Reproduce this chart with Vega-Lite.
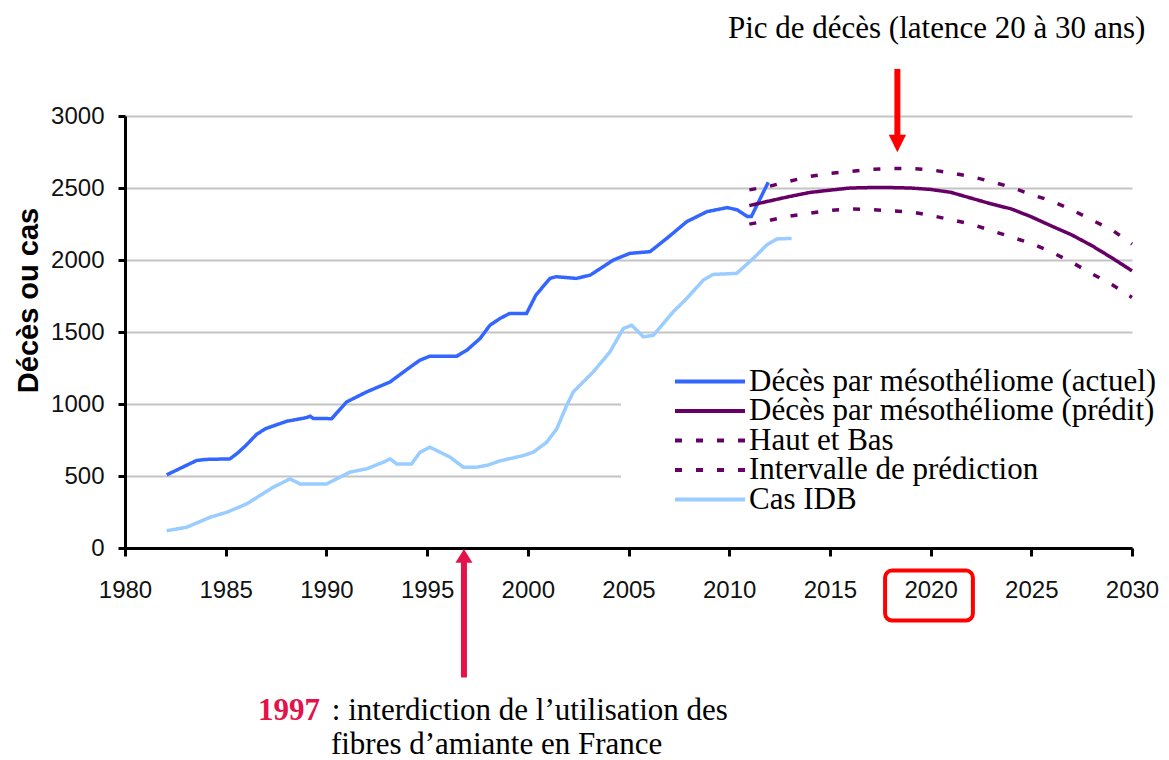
{
  "$schema": "https://vega.github.io/schema/vega-lite/v6.json",
  "autosize": "none",
  "width": 1007,
  "height": 432,
  "padding": {"left": 125, "top": 116, "right": 37, "bottom": 212},
  "background": "white",
  "config": {
    "view": {"stroke": null},
    "legend": {
      "orient": "none",
      "legendX": 496,
      "legendY": 248,
      "symbolType": "stroke",
      "symbolSize": 4900,
      "symbolStrokeWidth": 4,
      "symbolOffset": 48,
      "clipHeight": 27,
      "labelFont": "Liberation Serif",
      "labelFontSize": 31,
      "labelColor": "black",
      "labelLimit": 0,
      "labelOffset": 2,
      "fillColor": "white",
      "padding": 4,
      "rowPadding": -2.5,
      "title": null
    }
  },
  "datasets": {
    "series": [
      {"year": 1982.07, "value": 508, "series": "Décès par mésothéliome (actuel)"},
      {"year": 1983.56, "value": 608, "series": "Décès par mésothéliome (actuel)"},
      {"year": 1984.0, "value": 615, "series": "Décès par mésothéliome (actuel)"},
      {"year": 1985.21, "value": 619, "series": "Décès par mésothéliome (actuel)"},
      {"year": 1985.6, "value": 660, "series": "Décès par mésothéliome (actuel)"},
      {"year": 1986.0, "value": 712, "series": "Décès par mésothéliome (actuel)"},
      {"year": 1986.54, "value": 790, "series": "Décès par mésothéliome (actuel)"},
      {"year": 1987.0, "value": 830, "series": "Décès par mésothéliome (actuel)"},
      {"year": 1988.03, "value": 880, "series": "Décès par mésothéliome (actuel)"},
      {"year": 1989.0, "value": 905, "series": "Décès par mésothéliome (actuel)"},
      {"year": 1989.19, "value": 915, "series": "Décès par mésothéliome (actuel)"},
      {"year": 1989.35, "value": 900, "series": "Décès par mésothéliome (actuel)"},
      {"year": 1990.26, "value": 898, "series": "Décès par mésothéliome (actuel)"},
      {"year": 1991.0, "value": 1014, "series": "Décès par mésothéliome (actuel)"},
      {"year": 1992.0, "value": 1084, "series": "Décès par mésothéliome (actuel)"},
      {"year": 1993.16, "value": 1153, "series": "Décès par mésothéliome (actuel)"},
      {"year": 1994.0, "value": 1240, "series": "Décès par mésothéliome (actuel)"},
      {"year": 1994.64, "value": 1304, "series": "Décès par mésothéliome (actuel)"},
      {"year": 1995.14, "value": 1332, "series": "Décès par mésothéliome (actuel)"},
      {"year": 1996.47, "value": 1332, "series": "Décès par mésothéliome (actuel)"},
      {"year": 1996.97, "value": 1373, "series": "Décès par mésothéliome (actuel)"},
      {"year": 1997.63, "value": 1455, "series": "Décès par mésothéliome (actuel)"},
      {"year": 1998.12, "value": 1547, "series": "Décès par mésothéliome (actuel)"},
      {"year": 1998.62, "value": 1594, "series": "Décès par mésothéliome (actuel)"},
      {"year": 1999.1, "value": 1629, "series": "Décès par mésothéliome (actuel)"},
      {"year": 1999.94, "value": 1629, "series": "Décès par mésothéliome (actuel)"},
      {"year": 2000.4, "value": 1756, "series": "Décès par mésothéliome (actuel)"},
      {"year": 2001.1, "value": 1872, "series": "Décès par mésothéliome (actuel)"},
      {"year": 2001.4, "value": 1884, "series": "Décès par mésothéliome (actuel)"},
      {"year": 2002.4, "value": 1872, "series": "Décès par mésothéliome (actuel)"},
      {"year": 2003.1, "value": 1895, "series": "Décès par mésothéliome (actuel)"},
      {"year": 2004.25, "value": 2000, "series": "Décès par mésothéliome (actuel)"},
      {"year": 2005.07, "value": 2046, "series": "Décès par mésothéliome (actuel)"},
      {"year": 2006.07, "value": 2058, "series": "Décès par mésothéliome (actuel)"},
      {"year": 2006.9, "value": 2150, "series": "Décès par mésothéliome (actuel)"},
      {"year": 2007.9, "value": 2267, "series": "Décès par mésothéliome (actuel)"},
      {"year": 2008.9, "value": 2336, "series": "Décès par mésothéliome (actuel)"},
      {"year": 2009.9, "value": 2364, "series": "Décès par mésothéliome (actuel)"},
      {"year": 2010.4, "value": 2348, "series": "Décès par mésothéliome (actuel)"},
      {"year": 2010.9, "value": 2302, "series": "Décès par mésothéliome (actuel)"},
      {"year": 2011.1, "value": 2302, "series": "Décès par mésothéliome (actuel)"},
      {"year": 2011.94, "value": 2540, "series": "Décès par mésothéliome (actuel)"},

      {"year": 2011, "value": 2378, "series": "Décès par mésothéliome (prédit)"},
      {"year": 2012, "value": 2410, "series": "Décès par mésothéliome (prédit)"},
      {"year": 2013, "value": 2441, "series": "Décès par mésothéliome (prédit)"},
      {"year": 2014, "value": 2469, "series": "Décès par mésothéliome (prédit)"},
      {"year": 2015, "value": 2485, "series": "Décès par mésothéliome (prédit)"},
      {"year": 2016, "value": 2500, "series": "Décès par mésothéliome (prédit)"},
      {"year": 2017, "value": 2503, "series": "Décès par mésothéliome (prédit)"},
      {"year": 2018, "value": 2503, "series": "Décès par mésothéliome (prédit)"},
      {"year": 2019, "value": 2500, "series": "Décès par mésothéliome (prédit)"},
      {"year": 2020, "value": 2490, "series": "Décès par mésothéliome (prédit)"},
      {"year": 2021, "value": 2470, "series": "Décès par mésothéliome (prédit)"},
      {"year": 2022, "value": 2430, "series": "Décès par mésothéliome (prédit)"},
      {"year": 2023, "value": 2390, "series": "Décès par mésothéliome (prédit)"},
      {"year": 2024, "value": 2355, "series": "Décès par mésothéliome (prédit)"},
      {"year": 2025, "value": 2300, "series": "Décès par mésothéliome (prédit)"},
      {"year": 2026, "value": 2236, "series": "Décès par mésothéliome (prédit)"},
      {"year": 2027, "value": 2175, "series": "Décès par mésothéliome (prédit)"},
      {"year": 2028, "value": 2100, "series": "Décès par mésothéliome (prédit)"},
      {"year": 2029, "value": 2015, "series": "Décès par mésothéliome (prédit)"},
      {"year": 2030, "value": 1925, "series": "Décès par mésothéliome (prédit)"},

      {"year": 2011, "value": 2487, "series": "Haut et Bas"},
      {"year": 2012, "value": 2512, "series": "Haut et Bas"},
      {"year": 2013, "value": 2548, "series": "Haut et Bas"},
      {"year": 2014, "value": 2580, "series": "Haut et Bas"},
      {"year": 2015, "value": 2602, "series": "Haut et Bas"},
      {"year": 2016, "value": 2615, "series": "Haut et Bas"},
      {"year": 2017, "value": 2630, "series": "Haut et Bas"},
      {"year": 2018, "value": 2635, "series": "Haut et Bas"},
      {"year": 2019, "value": 2635, "series": "Haut et Bas"},
      {"year": 2020, "value": 2627, "series": "Haut et Bas"},
      {"year": 2021, "value": 2605, "series": "Haut et Bas"},
      {"year": 2022, "value": 2580, "series": "Haut et Bas"},
      {"year": 2023, "value": 2545, "series": "Haut et Bas"},
      {"year": 2024, "value": 2505, "series": "Haut et Bas"},
      {"year": 2025, "value": 2455, "series": "Haut et Bas"},
      {"year": 2026, "value": 2410, "series": "Haut et Bas"},
      {"year": 2027, "value": 2350, "series": "Haut et Bas"},
      {"year": 2028, "value": 2278, "series": "Haut et Bas"},
      {"year": 2029, "value": 2210, "series": "Haut et Bas"},
      {"year": 2030, "value": 2110, "series": "Haut et Bas"},

      {"year": 2011, "value": 2249, "series": "Intervalle de prédiction"},
      {"year": 2012, "value": 2275, "series": "Intervalle de prédiction"},
      {"year": 2013, "value": 2305, "series": "Intervalle de prédiction"},
      {"year": 2014, "value": 2325, "series": "Intervalle de prédiction"},
      {"year": 2015, "value": 2345, "series": "Intervalle de prédiction"},
      {"year": 2016, "value": 2355, "series": "Intervalle de prédiction"},
      {"year": 2017, "value": 2350, "series": "Intervalle de prédiction"},
      {"year": 2018, "value": 2341, "series": "Intervalle de prédiction"},
      {"year": 2019, "value": 2335, "series": "Intervalle de prédiction"},
      {"year": 2020, "value": 2310, "series": "Intervalle de prédiction"},
      {"year": 2021, "value": 2280, "series": "Intervalle de prédiction"},
      {"year": 2022, "value": 2250, "series": "Intervalle de prédiction"},
      {"year": 2023, "value": 2205, "series": "Intervalle de prédiction"},
      {"year": 2024, "value": 2160, "series": "Intervalle de prédiction"},
      {"year": 2025, "value": 2115, "series": "Intervalle de prédiction"},
      {"year": 2026, "value": 2056, "series": "Intervalle de prédiction"},
      {"year": 2027, "value": 1985, "series": "Intervalle de prédiction"},
      {"year": 2028, "value": 1905, "series": "Intervalle de prédiction"},
      {"year": 2029, "value": 1830, "series": "Intervalle de prédiction"},
      {"year": 2030, "value": 1740, "series": "Intervalle de prédiction"},

      {"year": 1982.07, "value": 120, "series": "Cas IDB"},
      {"year": 1983.06, "value": 144, "series": "Cas IDB"},
      {"year": 1984.22, "value": 213, "series": "Cas IDB"},
      {"year": 1985.05, "value": 248, "series": "Cas IDB"},
      {"year": 1986.04, "value": 306, "series": "Cas IDB"},
      {"year": 1987.36, "value": 422, "series": "Cas IDB"},
      {"year": 1988.19, "value": 480, "series": "Cas IDB"},
      {"year": 1988.69, "value": 445, "series": "Cas IDB"},
      {"year": 1990.01, "value": 445, "series": "Cas IDB"},
      {"year": 1991.17, "value": 527, "series": "Cas IDB"},
      {"year": 1992.0, "value": 550, "series": "Cas IDB"},
      {"year": 1992.83, "value": 596, "series": "Cas IDB"},
      {"year": 1993.16, "value": 619, "series": "Cas IDB"},
      {"year": 1993.49, "value": 584, "series": "Cas IDB"},
      {"year": 1994.23, "value": 584, "series": "Cas IDB"},
      {"year": 1994.65, "value": 665, "series": "Cas IDB"},
      {"year": 1995.14, "value": 700, "series": "Cas IDB"},
      {"year": 1996.14, "value": 631, "series": "Cas IDB"},
      {"year": 1996.8, "value": 561, "series": "Cas IDB"},
      {"year": 1997.46, "value": 561, "series": "Cas IDB"},
      {"year": 1998.0, "value": 575, "series": "Cas IDB"},
      {"year": 1998.62, "value": 605, "series": "Cas IDB"},
      {"year": 1999.78, "value": 642, "series": "Cas IDB"},
      {"year": 2000.27, "value": 665, "series": "Cas IDB"},
      {"year": 2000.94, "value": 735, "series": "Cas IDB"},
      {"year": 2001.44, "value": 828, "series": "Cas IDB"},
      {"year": 2001.93, "value": 990, "series": "Cas IDB"},
      {"year": 2002.26, "value": 1084, "series": "Cas IDB"},
      {"year": 2003.25, "value": 1223, "series": "Cas IDB"},
      {"year": 2004.08, "value": 1362, "series": "Cas IDB"},
      {"year": 2004.74, "value": 1524, "series": "Cas IDB"},
      {"year": 2005.16, "value": 1547, "series": "Cas IDB"},
      {"year": 2005.74, "value": 1466, "series": "Cas IDB"},
      {"year": 2006.23, "value": 1477, "series": "Cas IDB"},
      {"year": 2007.22, "value": 1640, "series": "Cas IDB"},
      {"year": 2007.89, "value": 1733, "series": "Cas IDB"},
      {"year": 2008.71, "value": 1860, "series": "Cas IDB"},
      {"year": 2009.21, "value": 1900, "series": "Cas IDB"},
      {"year": 2010.37, "value": 1907, "series": "Cas IDB"},
      {"year": 2011.2, "value": 2011, "series": "Cas IDB"},
      {"year": 2011.86, "value": 2104, "series": "Cas IDB"},
      {"year": 2012.36, "value": 2146, "series": "Cas IDB"},
      {"year": 2013.1, "value": 2150, "series": "Cas IDB"}
    ]
  },
  "encoding": {
    "x": {
      "type": "quantitative",
      "scale": {"domain": [1980, 2030], "nice": false, "zero": false},
      "axis": {
        "values": [1980, 1985, 1990, 1995, 2000, 2005, 2010, 2015, 2020, 2025, 2030],
        "format": "d",
        "title": null,
        "grid": false,
        "domainColor": "black",
        "domainWidth": 3,
        "tickColor": "black",
        "tickWidth": 3,
        "tickSize": 8,
        "labelFont": "Liberation Sans",
        "labelFontSize": 24,
        "labelColor": "#111111",
        "labelPadding": 22,
        "labelFlush": false,
        "labelOverlap": false
      }
    },
    "y": {
      "type": "quantitative",
      "scale": {"domain": [0, 3000], "nice": false, "zero": false},
      "axis": {
        "values": [0, 500, 1000, 1500, 2000, 2500, 3000],
        "format": "d",
        "title": "Décès ou cas",
        "titleFont": "Liberation Sans",
        "titleFontWeight": "bold",
        "titleFontSize": 29,
        "titleColor": "black",
        "titleAngle": 270,
        "titleAlign": "center",
        "titleBaseline": "alphabetic",
        "titleX": -88,
        "titleY": 184,
        "grid": true,
        "gridColor": "#c4c4c4",
        "gridWidth": 2,
        "domainColor": "black",
        "domainWidth": 3,
        "tickColor": "black",
        "tickWidth": 3,
        "tickSize": 7,
        "labelFont": "Liberation Sans",
        "labelFontSize": 24,
        "labelColor": "#111111",
        "labelPadding": 14,
        "labelOverlap": false
      }
    }
  },
  "layer": [
    {
      "data": {"name": "series"},
      "mark": {"type": "line", "strokeWidth": 3.5, "strokeCap": "butt"},
      "encoding": {
        "x": {"field": "year", "type": "quantitative"},
        "y": {"field": "value", "type": "quantitative"},
        "color": {
          "field": "series",
          "type": "nominal",
          "scale": {
            "domain": ["Décès par mésothéliome (actuel)", "Décès par mésothéliome (prédit)", "Haut et Bas", "Intervalle de prédiction", "Cas IDB"],
            "range": ["#3366ff", "#660066", "#660066", "#660066", "#99ccff"]
          }
        },
        "strokeDash": {
          "field": "series",
          "type": "nominal",
          "scale": {
            "domain": ["Décès par mésothéliome (actuel)", "Décès par mésothéliome (prédit)", "Haut et Bas", "Intervalle de prédiction", "Cas IDB"],
            "range": [[1, 0], [1, 0], [7, 14], [7, 14], [1, 0]]
          }
        },
        "order": {"field": "year", "type": "quantitative"}
      }
    },
    {
      "data": {"values": [{"year": 2018.35, "from": 3327, "to": 2861}]},
      "mark": {"type": "rule", "color": "#ff0000", "strokeWidth": 6},
      "encoding": {
        "x": {"field": "year", "type": "quantitative"},
        "y": {"field": "from", "type": "quantitative"},
        "y2": {"field": "to"}
      }
    },
    {
      "data": {"values": [{"year": 2018.35, "value": 2809}]},
      "mark": {"type": "point", "shape": "M-1,-1L1,-1L0,1Z", "size": 300, "filled": true, "color": "#ff0000", "opacity": 1},
      "encoding": {
        "x": {"field": "year", "type": "quantitative"},
        "y": {"field": "value", "type": "quantitative"}
      }
    },
    {
      "data": {"values": [{"label": "Pic de décès (latence 20 à 30 ans)", "year": 2020.3, "value": 3541}]},
      "mark": {"type": "text", "font": "Liberation Serif", "fontSize": 31, "color": "black", "align": "center", "baseline": "alphabetic"},
      "encoding": {
        "x": {"field": "year", "type": "quantitative"},
        "y": {"field": "value", "type": "quantitative"},
        "text": {"field": "label"}
      }
    },
    {
      "data": {"values": [{"year": 1996.83, "from": -899, "to": -95}]},
      "mark": {"type": "rule", "color": "#e3124b", "strokeWidth": 6},
      "encoding": {
        "x": {"field": "year", "type": "quantitative"},
        "y": {"field": "from", "type": "quantitative"},
        "y2": {"field": "to"}
      }
    },
    {
      "data": {"values": [{"year": 1996.83, "value": -55}]},
      "mark": {"type": "point", "shape": "M-1,0.8L1,0.8L0,-0.8Z", "size": 290, "filled": true, "color": "#e3124b", "opacity": 1},
      "encoding": {
        "x": {"field": "year", "type": "quantitative"},
        "y": {"field": "value", "type": "quantitative"}
      }
    },
    {
      "data": {"values": [{"label": "1997", "year": 1989.68, "value": -1192}]},
      "mark": {"type": "text", "font": "Liberation Serif", "fontSize": 31, "fontWeight": "bold", "color": "#e3124b", "align": "right", "baseline": "alphabetic"},
      "encoding": {
        "x": {"field": "year", "type": "quantitative"},
        "y": {"field": "value", "type": "quantitative"},
        "text": {"field": "label"}
      }
    },
    {
      "data": {"values": [{"label": ": interdiction de l’utilisation des", "year": 1990.27, "value": -1192}]},
      "mark": {"type": "text", "font": "Liberation Serif", "fontSize": 31, "color": "black", "align": "left", "baseline": "alphabetic"},
      "encoding": {
        "x": {"field": "year", "type": "quantitative"},
        "y": {"field": "value", "type": "quantitative"},
        "text": {"field": "label"}
      }
    },
    {
      "data": {"values": [{"label": "fibres d’amiante en France", "year": 1998.45, "value": -1428}]},
      "mark": {"type": "text", "font": "Liberation Serif", "fontSize": 31, "color": "black", "align": "center", "baseline": "alphabetic"},
      "encoding": {
        "x": {"field": "year", "type": "quantitative"},
        "y": {"field": "value", "type": "quantitative"},
        "text": {"field": "label"}
      }
    },
    {
      "data": {"values": [{"x0": 2017.74, "x1": 2022.1, "y0": -157, "y1": -504}]},
      "mark": {"type": "rect", "fill": "transparent", "stroke": "#ff0000", "strokeWidth": 4, "cornerRadius": 7},
      "encoding": {
        "x": {"field": "x0", "type": "quantitative"},
        "x2": {"field": "x1"},
        "y": {"field": "y0", "type": "quantitative"},
        "y2": {"field": "y1"}
      }
    }
  ]
}
